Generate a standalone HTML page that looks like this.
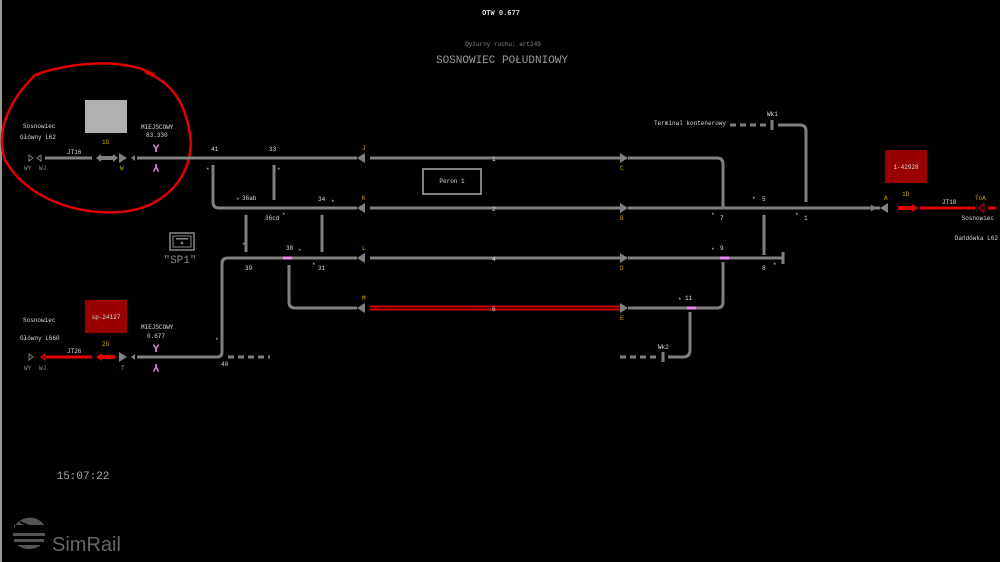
<!DOCTYPE html>
<html><head><meta charset="utf-8"><style>
html,body{margin:0;padding:0;background:#000;width:1000px;height:562px;overflow:hidden}
svg{display:block}
text{font-family:"Liberation Mono",monospace;font-size:6px;fill:#ddd}
.y{fill:#c9a800}
.g{stroke:#808080;stroke-width:3;fill:none}
</style></head><body>
<svg width="1000" height="562" viewBox="0 0 1000 562">
<rect x="0" y="0" width="2" height="562" fill="#999"/>
<text x="501" y="15" text-anchor="middle" style="font-size:7px;font-weight:bold">OTW 0.677</text>
<text x="503" y="46" text-anchor="middle" style="fill:#888">Dyżurny ruchu: art249</text>
<text x="502" y="63" text-anchor="middle" style="font-size:11px;fill:#999">SOSNOWIEC POŁUDNIOWY</text>

<!-- red circle -->
<path d="M155,15 C120,-5 60,5 35,15 C10,40 -5,70 5,100 C25,135 70,155 120,152 C170,148 195,110 190,75 C185,40 170,22 145,12" transform="translate(0,60)" fill="none" stroke="#e00000" stroke-width="2.5"/>

<g class="g">
<path d="M45,158H92"/>
<path d="M137,158H357M370,158H620M628,158H717q6,0 6,6V207"/>
<path d="M218,208H357M370,208H620M628,208H880"/>
<path d="M213,165V202q0,6 6,6"/>
<path d="M274,165V200"/>
<path d="M246,215V252M322,215V252"/>
<path d="M228,258H357M370,258H620M628,258H783"/>
<path d="M783,252V264"/>
<path d="M137,357H217q5,0 5,-5V264q0,-6 6,-6"/>
<path d="M289,265V302q0,6 6,6H357"/>
<path d="M628,308H717q6,0 6,-6V262"/>
<path d="M764,215V255"/>
<path d="M730,125H768" stroke-dasharray="6,4"/>
<path d="M778,125H800q6,0 6,6V202"/>
<path d="M690,312V350q0,7 -7,7H668"/>
<path d="M620,357H656" stroke-dasharray="6,4"/>
<path d="M228,357H270" stroke-dasharray="6,4"/>
<path d="M772,120V130M663,352V362"/>
</g>
<path d="M370,306.5H620M370,309.5H620" stroke="#d00000" stroke-width="2"/>
<rect x="283" y="256.5" width="9" height="3" fill="#ee88ee"/>
<rect x="720" y="256.5" width="9" height="3" fill="#ee88ee"/>
<rect x="687" y="306.5" width="9" height="3" fill="#ee88ee"/>

<g fill="#808080">
<path d="M357,158l8,-5v10z M357,208l8,-5v10z M357,258l8,-5v10z M357,308l8,-5v10z"/>
<path d="M628,158l-8,-5v10z M628,208l-8,-5v10z M628,258l-8,-5v10z M628,308l-8,-5v10z"/>
<path d="M880,208l8,-5v10z"/><path d="M876,208l-5,-3.5v7z"/>
<path d="M96,158l5,-4v8z M118,158l-5,-4v8z"/><rect x="100" y="156" width="14" height="4"/>
<path d="M127,158l-8,-5v10z"/><path d="M131,158l4,-3v6z"/>
<path d="M127,357l-8,-5v10z"/><path d="M131,357l4,-3v6z"/>
</g>
<path d="M33,158l-4,-3v6zM37,158l4,-3v6z" fill="none" stroke="#808080"/>
<path d="M33,357l-4,-3v6z" fill="none" stroke="#808080"/>
<path d="M41,357l4,-3v6z" fill="none" stroke="#e00000" stroke-width="1.2"/>
<g fill="#e00000">
<rect x="46" y="355.5" width="46" height="3"/>
<path d="M96,357l6,-4v8z"/><rect x="101" y="355" width="14" height="4"/>
<rect x="898" y="206" width="14" height="4"/><path d="M918,208l-6,-4v8z"/>
<rect x="920" y="206.5" width="55" height="3"/>
<rect x="988" y="206.5" width="8" height="3"/>
</g>
<path d="M978,208l6,-4v8z" fill="none" stroke="#e00000" stroke-width="1"/>

<rect x="85" y="100" width="42" height="33" fill="#b0b0b0"/>
<rect x="885" y="150" width="42" height="33" fill="#990000"/>
<text x="906" y="169" text-anchor="middle">1-42928</text>
<rect x="85" y="300" width="42" height="33" fill="#990000"/>
<text x="106" y="319" text-anchor="middle">sp-24127</text>
<rect x="423" y="169" width="58" height="25" fill="none" stroke="#aaa" stroke-width="1.5"/>
<text x="452" y="183" text-anchor="middle">Peron 1</text>

<rect x="170" y="233" width="24" height="17" fill="none" stroke="#888" stroke-width="1.5"/>
<rect x="173" y="236" width="18" height="11" fill="none" stroke="#888" stroke-width="1"/>
<rect x="176" y="238" width="12" height="1.5" fill="#888"/><circle cx="182" cy="243" r="1.3" fill="#888"/>
<text x="180" y="263" text-anchor="middle" style="font-size:11px;fill:#888">"SP1"</text>

<text x="156" y="152" text-anchor="middle" style="font-size:11px;fill:#ee88ee;font-weight:bold">Y</text>
<text x="156" y="172" text-anchor="middle" transform="rotate(180 156 168)" style="font-size:11px;fill:#ee88ee;font-weight:bold">Y</text>
<text x="156" y="352" text-anchor="middle" style="font-size:11px;fill:#ee88ee;font-weight:bold">Y</text>
<text x="156" y="372" text-anchor="middle" transform="rotate(180 156 368)" style="font-size:11px;fill:#ee88ee;font-weight:bold">Y</text>

<text x="23" y="128">Sosnowiec</text><text x="20" y="139">Główny L62</text>
<text x="67" y="154">JT16</text><text x="102" y="144" class="y">1G</text>
<text x="120" y="170" class="y">W</text>
<text x="24" y="170" style="fill:#888">WY</text><text x="39" y="170" style="fill:#888">WJ</text>
<text x="141" y="129">MIEJSCOWY</text><text x="146" y="137">83.330</text>
<text x="23" y="322">Sosnowiec</text><text x="20" y="340">Główny L660</text>
<text x="67" y="353">JT26</text><text x="102" y="346" class="y">2G</text>
<text x="121" y="370" class="y">T</text>
<text x="24" y="370" style="fill:#888">WY</text><text x="39" y="370" style="fill:#888">WJ</text>
<text x="141" y="329">MIEJSCOWY</text><text x="147" y="338">0.677</text>
<text x="211" y="151">41</text><text x="269" y="151">33</text>
<text x="206" y="172">*</text><text x="277" y="172">*</text>
<text x="236" y="202">*</text><text x="242" y="200">36ab</text>
<text x="318" y="201">34</text><text x="331" y="204">*</text>
<text x="265" y="220">36cd</text><text x="282" y="217">*</text>
<text x="242" y="247">*</text><text x="286" y="250">38</text><text x="298" y="253">*</text>
<text x="245" y="270">39</text><text x="312" y="267">*</text><text x="318" y="270">31</text>
<text x="215" y="342">*</text><text x="221" y="366">40</text>
<text x="362" y="150" class="y">J</text><text x="362" y="200" class="y">K</text>
<text x="362" y="250" class="y">L</text><text x="362" y="300" class="y">M</text>
<text x="620" y="170" class="y">C</text><text x="620" y="220" class="y">B</text>
<text x="620" y="270" class="y">D</text><text x="620" y="320" class="y">E</text>
<text x="884" y="200" class="y">A</text><text x="902" y="196" class="y">1D</text>
<text x="942" y="204">JT18</text><text x="975" y="200" class="y">ToA</text>
<text x="994" y="220" text-anchor="end">Sosnowiec</text><text x="998" y="240" text-anchor="end">Dańdówka L62</text>
<text x="492" y="161">1</text><text x="492" y="211">2</text>
<text x="492" y="261">4</text><text x="492" y="311">6</text>
<text x="726" y="125" text-anchor="end">Terminal kontenerowy</text><text x="767" y="116">Wk1</text>
<text x="711" y="217">*</text><text x="720" y="220">7</text>
<text x="752" y="201">*</text><text x="762" y="201">5</text>
<text x="795" y="217">*</text><text x="804" y="220">1</text>
<text x="711" y="252">*</text><text x="720" y="250">9</text>
<text x="762" y="270">8</text><text x="773" y="267">*</text>
<text x="678" y="302">*</text><text x="685" y="300">11</text>
<text x="658" y="349">Wk2</text>
<text x="83" y="479" style="font-size:11px;fill:#aaa" text-anchor="middle">15:07:22</text>

<g fill="#555">
<path d="M14,530a16,14 0 0 1 30,-5h-30z"/>
<path d="M13,533h32v3h-32zM14,539h30v3h-30zM17,545h24a16,12 0 0 1 -24,0z"/>
<path d="M20,522l18,8" stroke="#000" stroke-width="2"/>
</g>
<text x="52" y="551" style="font-family:'Liberation Sans',sans-serif;font-size:20px;fill:#666">SimRail</text>
</svg>
</body></html>
